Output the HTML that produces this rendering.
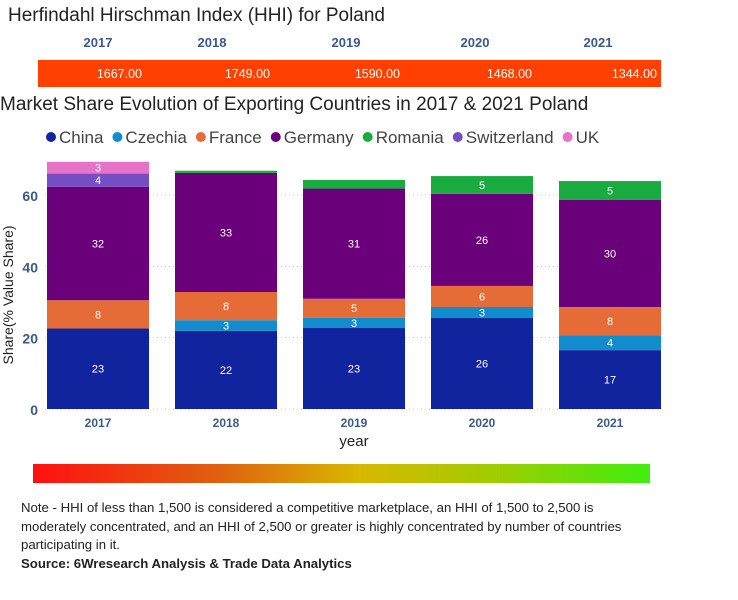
<!DOCTYPE html>
<html><head><meta charset="utf-8"><style>
body{margin:0;width:738px;height:600px;background:#fff;font-family:"Liberation Sans",sans-serif;overflow:hidden;position:relative}
.a{position:absolute;white-space:nowrap}
</style></head><body>
<div class="a" style="left:8px;top:5px;font-size:19px;color:#222">Herfindahl Hirschman Index (HHI) for Poland</div>
<div class="a" style="left:38px;top:60px;width:623px;height:27px;background:#ff4000"></div>
<div class="a" style="left:0;top:94px;font-size:19px;color:#222">Market Share Evolution of Exporting Countries in 2017 &amp; 2021 Poland</div>
<svg id="c" class="a" style="left:0;top:0" width="738" height="460"></svg>
<div class="a" style="left:33px;top:464px;width:617px;height:19px;background:linear-gradient(90deg,#ff1010,#e06010 30%,#d8b800 53%,#a0cc00 75%,#40ee10)"></div>
<div class="a" style="left:21px;top:499px;font-size:13.2px;line-height:18.5px;color:#222;white-space:normal;width:630px">Note - HHI of less than 1,500 is considered a competitive marketplace, an HHI of 1,500 to 2,500 is moderately concentrated, and an HHI of 2,500 or greater is highly concentrated by number of countries participating in it.<br><b>Source: 6Wresearch Analysis &amp; Trade Data Analytics</b></div>
<script>
const years=["2017","2018","2019","2020","2021"];
const hhi=[1667,1749,1590,1468,1344];
const series=["China","Czechia","France","Germany","Romania","Switzerland","UK"];
const colors=["#12239e","#118dce","#e66c37","#6b007b","#1aab40","#744ec2","#e772c9"];
const china=[22.6,21.9,22.7,25.5,16.5];
const czechia=[0,3.0,2.9,3.1,4.2];
const france=[7.9,7.9,5.3,5.9,7.9];
const germany=[31.8,33.4,30.9,25.8,30.0];
const romania=[0,0.6,2.4,5.0,5.3];
const switzerland=[3.7,0,0,0,0];
const uk=[3.3,0,0,0,0];
const yTicks=[0,20,40,60];
const vals=[china,czechia,france,germany,romania,switzerland,uk];
const NS="http://www.w3.org/2000/svg",svg=document.getElementById('c');
const y=v=>409-v*3.567, xc=i=>98+i*128, bw=102;
const hx=[98,212,346,475,598], vx=[142,270,400,532,657];
function el(t,a,txt){const e=document.createElementNS(NS,t);for(const k in a)e.setAttribute(k,a[k]);if(txt!=null)e.textContent=txt;svg.appendChild(e);return e;}
years.forEach((yr,i)=>{
 let t=el('text',{x:hx[i],y:47,'font-size':13,'font-weight':'bold',fill:'#3a5a8c','text-anchor':'middle'},yr);
 
 
 let v=el('text',{x:vx[i],y:78,'font-size':12.5,fill:'#fff','text-anchor':'end'},hhi[i].toFixed(2));
 
 
});
let lx=46;
series.forEach((s,k)=>{
 const c=el('circle',{cx:lx+5,cy:137,r:5,fill:colors[k]});
 
 
 const t=el('text',{x:lx+13,y:143,'font-size':17,fill:'#444'},s);
 
 
 lx+=13+t.getComputedTextLength()+9;
});
yTicks.forEach(v=>{
 const l=el('line',{x1:45,x2:665,y1:y(v),y2:y(v),stroke:'#ccc','stroke-dasharray':'1 3'});
 
 
 const t=el('text',{x:38,y:y(v)+6,'font-size':14,'font-weight':'bold',fill:'#3a5a8c','text-anchor':'end'},v);
 
 
});
years.forEach((yr,i)=>{
 let base=0;
 vals.forEach((arr,k)=>{
  const v=arr[i]; if(!v)return;
  const r=el('rect',{x:xc(i)-bw/2,y:y(base+v),width:bw,height:y(base)-y(base+v),fill:colors[k]});
  
  
  if(v>=2.8){const t=el('text',{x:xc(i),y:y(base+v/2)+4,'font-size':11,fill:'#fff','text-anchor':'middle'},Math.round(v));
   
   }
  base+=v;
 });
 const t=el('text',{x:xc(i),y:427,'font-size':12,'font-weight':'bold',fill:'#3a5a8c','text-anchor':'middle'},yr);
 
 
});
const xt=el('text',{x:354,y:446,'font-size':15,fill:'#222','text-anchor':'middle'},'year');


const yt=el('text',{x:0,y:0,'font-size':14,fill:'#222','text-anchor':'middle',transform:'translate(13,295) rotate(-90)'},'Share(% Value Share)');


</script>
</body></html>
